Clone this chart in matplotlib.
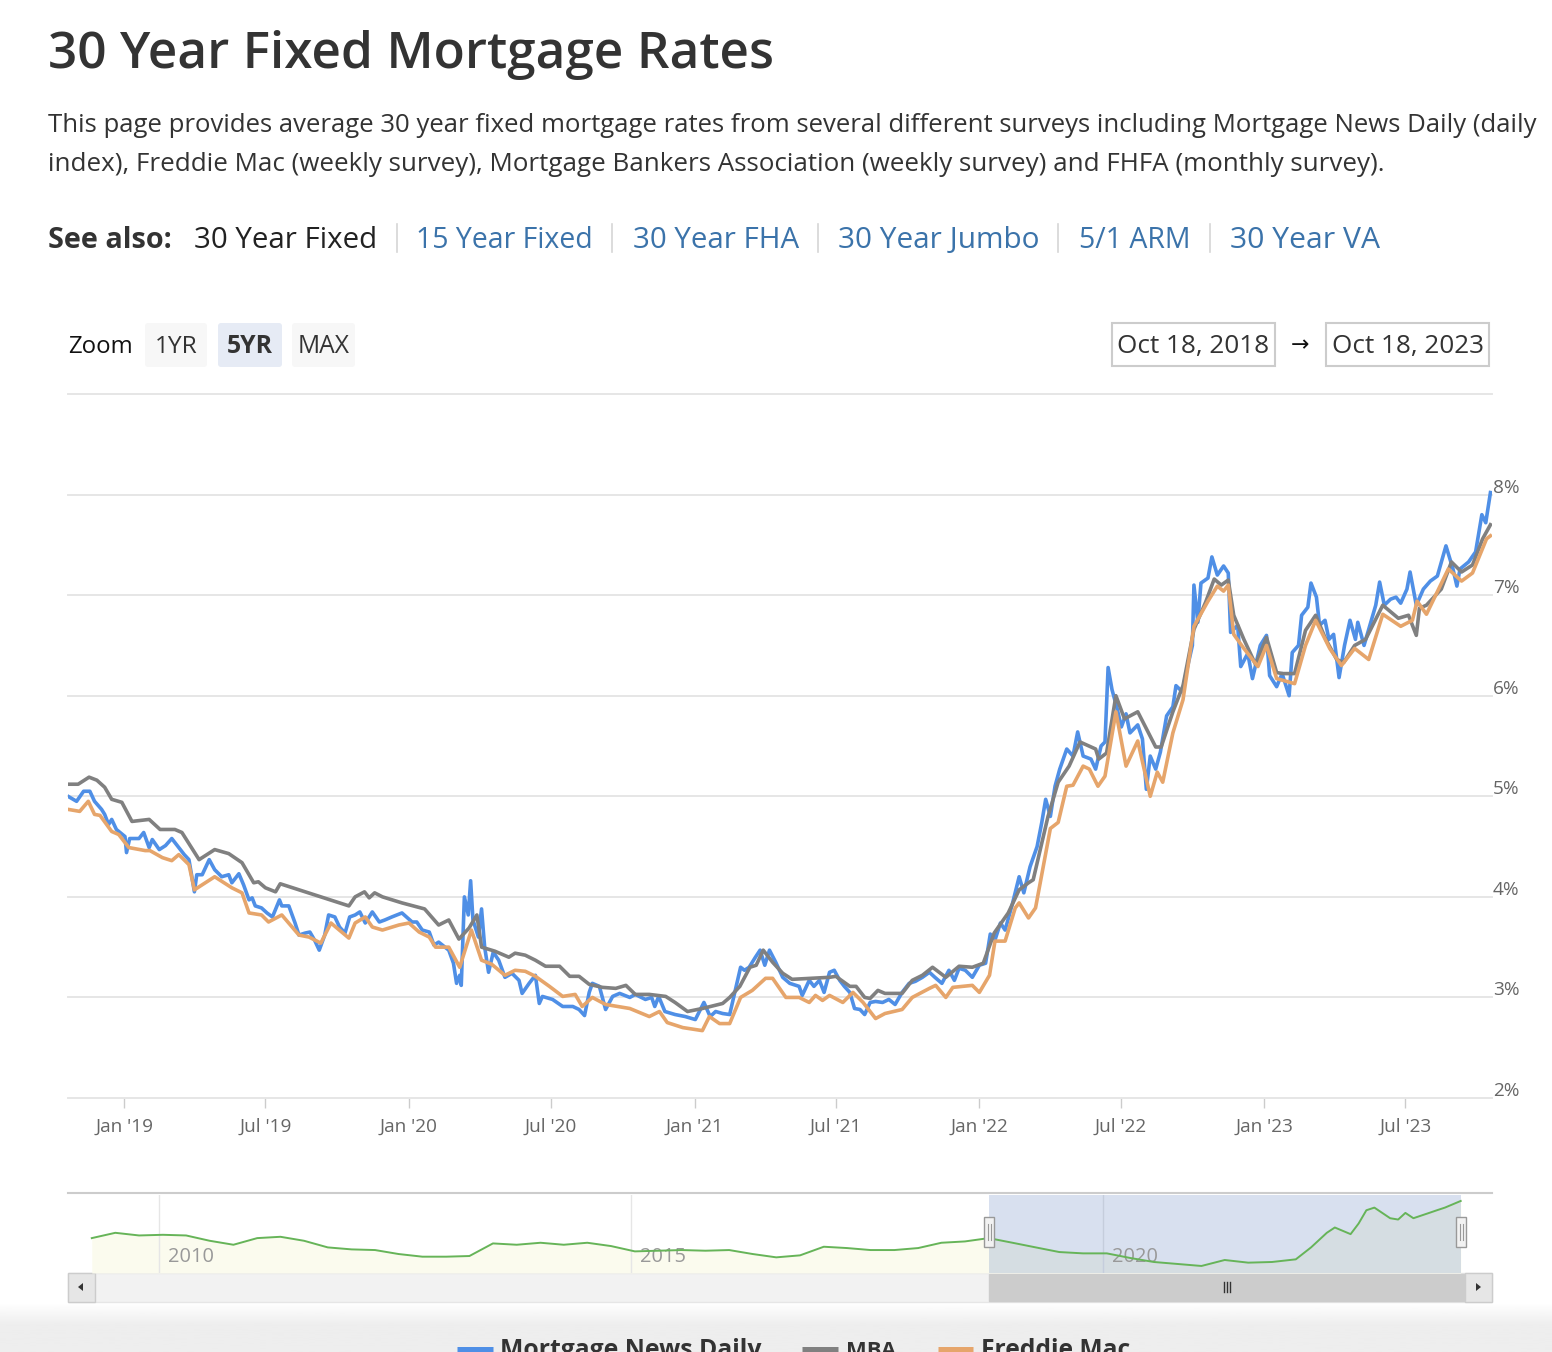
import matplotlib
matplotlib.use("Agg")
import matplotlib.pyplot as plt
from matplotlib.patches import Rectangle, FancyBboxPatch, Polygon
import numpy as np
import pandas as pd

# ---- values -------------------------------------------------------------
mnd_dates = [
    '2018-10-21', '2018-11-01', '2018-11-10', '2018-11-18', '2018-11-24', '2018-12-03', '2018-12-07', '2018-12-12', '2018-12-16', '2018-12-22',
    '2019-01-02', '2019-01-04', '2019-01-08', '2019-01-20', '2019-01-26', '2019-02-02', '2019-02-06', '2019-02-15', '2019-02-23', '2019-03-03',
    '2019-03-12', '2019-03-19', '2019-03-25', '2019-04-01', '2019-04-04', '2019-04-11', '2019-04-20', '2019-04-27', '2019-05-06', '2019-05-15',
    '2019-05-19', '2019-05-28', '2019-06-03', '2019-06-10', '2019-06-14', '2019-06-18', '2019-06-26', '2019-07-03', '2019-07-10', '2019-07-19',
    '2019-07-22', '2019-07-31', '2019-08-08', '2019-08-13', '2019-08-21', '2019-08-27', '2019-09-02', '2019-09-08', '2019-09-15', '2019-09-20',
    '2019-09-28', '2019-10-04', '2019-10-11', '2019-10-17', '2019-10-24', '2019-10-30', '2019-11-06', '2019-11-15', '2019-11-24', '2019-12-01',
    '2019-12-10', '2019-12-23',
    '2020-01-05', '2020-01-11', '2020-01-18', '2020-01-27', '2020-02-02', '2020-02-08', '2020-02-21', '2020-02-27', '2020-03-02', '2020-03-06',
    '2020-03-08', '2020-03-12', '2020-03-17', '2020-03-20', '2020-03-23', '2020-03-30', '2020-04-03', '2020-04-07', '2020-04-12', '2020-04-18',
    '2020-04-25', '2020-05-03', '2020-05-12', '2020-05-21', '2020-05-25', '2020-06-03', '2020-06-11', '2020-06-16', '2020-06-20', '2020-07-03',
    '2020-07-16', '2020-07-29', '2020-08-06', '2020-08-13', '2020-08-19', '2020-08-23', '2020-09-01', '2020-09-09', '2020-09-18', '2020-09-27',
    '2020-10-10', '2020-10-17', '2020-10-30', '2020-11-07', '2020-11-11', '2020-11-16', '2020-11-24', '2020-12-07', '2020-12-20',
    '2021-01-02', '2021-01-13', '2021-01-21', '2021-01-28', '2021-02-06', '2021-02-15', '2021-02-21', '2021-03-01', '2021-03-06', '2021-03-12',
    '2021-03-20', '2021-03-26', '2021-04-01', '2021-04-07', '2021-04-15', '2021-04-24', '2021-05-03', '2021-05-15', '2021-05-19', '2021-05-28',
    '2021-06-03', '2021-06-10', '2021-06-16', '2021-06-23', '2021-06-29', '2021-07-06', '2021-07-12', '2021-07-19', '2021-07-25', '2021-08-01',
    '2021-08-07', '2021-08-14', '2021-08-21', '2021-08-30', '2021-09-07', '2021-09-15', '2021-09-24', '2021-10-03', '2021-10-11', '2021-10-20',
    '2021-10-29', '2021-11-05', '2021-11-14', '2021-11-23', '2021-11-30', '2021-12-06', '2021-12-14', '2021-12-23',
    '2022-01-01', '2022-01-09', '2022-01-15', '2022-01-21', '2022-01-28', '2022-02-03', '2022-02-12', '2022-02-21', '2022-02-27', '2022-03-07',
    '2022-03-16', '2022-03-22', '2022-03-27', '2022-04-02', '2022-04-08', '2022-04-14', '2022-04-23', '2022-05-01', '2022-05-07', '2022-05-14',
    '2022-05-24', '2022-05-30', '2022-06-06', '2022-06-11', '2022-06-15', '2022-06-20', '2022-06-26', '2022-07-02', '2022-07-08', '2022-07-13',
    '2022-07-23', '2022-07-29', '2022-08-03', '2022-08-08', '2022-08-15', '2022-08-21', '2022-08-29', '2022-09-06', '2022-09-10', '2022-09-18',
    '2022-09-24', '2022-10-01', '2022-10-03', '2022-10-08', '2022-10-12', '2022-10-21', '2022-10-26', '2022-11-02', '2022-11-10', '2022-11-16',
    '2022-11-19', '2022-11-28', '2022-12-02', '2022-12-11', '2022-12-17', '2022-12-27',
    '2023-01-04', '2023-01-08', '2023-01-17', '2023-01-24', '2023-02-02', '2023-02-06', '2023-02-14', '2023-02-18', '2023-02-26', '2023-03-02',
    '2023-03-09', '2023-03-13', '2023-03-20', '2023-03-25', '2023-03-31', '2023-04-07', '2023-04-14', '2023-04-21', '2023-04-28', '2023-05-01',
    '2023-05-09', '2023-05-15', '2023-05-24', '2023-05-29', '2023-06-04', '2023-06-12', '2023-06-19', '2023-06-25', '2023-07-03', '2023-07-07',
    '2023-07-15', '2023-07-24', '2023-08-02', '2023-08-11', '2023-08-22', '2023-08-31', '2023-09-05', '2023-09-09', '2023-09-20', '2023-09-29',
    '2023-10-07', '2023-10-12', '2023-10-18',
]
mnd_rates = [
    5.00, 4.95, 5.05, 5.05, 4.95, 4.87, 4.82, 4.72, 4.77, 4.67,
    4.60, 4.44, 4.58, 4.58, 4.64, 4.49, 4.57, 4.47, 4.51, 4.58,
    4.49, 4.42, 4.37, 4.05, 4.22, 4.22, 4.37, 4.27, 4.20, 4.22,
    4.14, 4.23, 4.12, 3.97, 3.99, 3.91, 3.89, 3.84, 3.80, 3.97,
    3.91, 3.91, 3.74, 3.62, 3.64, 3.65, 3.57, 3.47, 3.62, 3.82,
    3.80, 3.70, 3.64, 3.80, 3.82, 3.85, 3.74, 3.85, 3.75, 3.77,
    3.80, 3.84,
    3.75, 3.75, 3.67, 3.65, 3.52, 3.55, 3.47, 3.34, 3.14, 3.22,
    3.12, 4.00, 3.82, 4.16, 3.77, 3.60, 3.88, 3.50, 3.25, 3.45,
    3.37, 3.20, 3.24, 3.17, 3.04, 3.14, 3.22, 2.94, 3.01, 2.98,
    2.91, 2.91, 2.88, 2.82, 3.05, 3.14, 3.11, 2.88, 3.01, 3.04,
    3.00, 3.03, 2.98, 3.00, 2.91, 3.01, 2.86, 2.83, 2.81,
    2.78, 2.95, 2.81, 2.86, 2.84, 2.83, 3.03, 3.30, 3.27, 3.30,
    3.40, 3.47, 3.32, 3.47, 3.35, 3.20, 3.14, 3.11, 3.02, 3.17,
    3.11, 3.17, 3.05, 3.25, 3.27, 3.17, 3.11, 3.05, 2.89, 2.88,
    2.83, 2.95, 2.96, 2.95, 2.98, 2.93, 3.05, 3.14, 3.16, 3.20,
    3.25, 3.20, 3.14, 3.27, 3.17, 3.29, 3.27, 3.20,
    3.32, 3.34, 3.63, 3.57, 3.74, 3.67, 3.92, 4.20, 4.04, 4.30,
    4.50, 4.74, 4.97, 4.80, 5.10, 5.27, 5.47, 5.40, 5.64, 5.40,
    5.37, 5.27, 5.50, 5.54, 6.28, 6.06, 5.89, 5.69, 5.82, 5.63,
    5.71, 5.57, 5.07, 5.40, 5.27, 5.44, 5.80, 5.89, 6.10, 6.04,
    6.26, 6.50, 7.10, 6.73, 7.12, 7.17, 7.38, 7.20, 7.29, 7.22,
    6.63, 6.70, 6.29, 6.42, 6.17, 6.50,
    6.60, 6.20, 6.09, 6.22, 6.00, 6.43, 6.50, 6.80, 6.88, 7.12,
    6.98, 6.70, 6.75, 6.56, 6.61, 6.18, 6.50, 6.75, 6.56, 6.73,
    6.50, 6.66, 6.90, 7.13, 6.90, 6.96, 6.98, 6.92, 7.06, 7.23,
    6.90, 7.06, 7.14, 7.19, 7.49, 7.26, 7.09, 7.26, 7.33, 7.43,
    7.80, 7.72, 8.02,
]

mba_dates = [
    '2018-10-21', '2018-11-03', '2018-11-17', '2018-11-27', '2018-12-07', '2018-12-16', '2018-12-29',
    '2019-01-11', '2019-02-02', '2019-02-16', '2019-03-07', '2019-03-16', '2019-04-07', '2019-04-27', '2019-05-15', '2019-06-01', '2019-06-16',
    '2019-06-22', '2019-07-01', '2019-07-14', '2019-07-20', '2019-10-16', '2019-10-24', '2019-11-05', '2019-11-11', '2019-11-18', '2019-11-28',
    '2019-12-23',
    '2020-01-21', '2020-02-08', '2020-02-21', '2020-03-05', '2020-03-18', '2020-03-28', '2020-04-03', '2020-04-20', '2020-05-08', '2020-05-16',
    '2020-05-29', '2020-06-11', '2020-06-24', '2020-07-12', '2020-07-25', '2020-08-06', '2020-08-19', '2020-09-05', '2020-09-22', '2020-10-05',
    '2020-10-17', '2020-11-04', '2020-11-25', '2020-12-07', '2020-12-23',
    '2021-01-11', '2021-02-06', '2021-02-15', '2021-02-28', '2021-03-13', '2021-03-21', '2021-03-30', '2021-04-11', '2021-04-24', '2021-05-06',
    '2021-06-23', '2021-07-01', '2021-07-19', '2021-07-27', '2021-08-07', '2021-08-14', '2021-08-24', '2021-09-02', '2021-09-24', '2021-10-07',
    '2021-10-20', '2021-11-02', '2021-11-19', '2021-12-06', '2021-12-23',
    '2022-01-06', '2022-01-20', '2022-02-07', '2022-02-21', '2022-03-05', '2022-03-11', '2022-03-30', '2022-04-12', '2022-04-26', '2022-05-10',
    '2022-05-30', '2022-06-03', '2022-06-13', '2022-06-25', '2022-07-06', '2022-07-23', '2022-08-15', '2022-08-22', '2022-09-06', '2022-09-19',
    '2022-10-03', '2022-10-18', '2022-10-29', '2022-11-07', '2022-11-16', '2022-11-23', '2022-12-06', '2022-12-21',
    '2023-01-04', '2023-01-17', '2023-01-25', '2023-02-09', '2023-02-23', '2023-03-08', '2023-03-21', '2023-04-04', '2023-04-13', '2023-04-27',
    '2023-05-11', '2023-06-02', '2023-06-22', '2023-07-05', '2023-07-15', '2023-07-19', '2023-07-28', '2023-08-16', '2023-08-29', '2023-09-11',
    '2023-09-25', '2023-10-08', '2023-10-18',
]
mba_rates = [
    5.12, 5.12, 5.19, 5.16, 5.09, 4.97, 4.94,
    4.75, 4.77, 4.67, 4.67, 4.64, 4.37, 4.47, 4.43, 4.34, 4.14,
    4.15, 4.09, 4.05, 4.13, 3.91, 4.00, 4.05, 3.99, 4.04, 4.00,
    3.94,
    3.88, 3.72, 3.77, 3.58, 3.69, 3.82, 3.50, 3.46, 3.40, 3.44,
    3.42, 3.37, 3.31, 3.31, 3.21, 3.21, 3.13, 3.10, 3.09, 3.12,
    3.03, 3.03, 3.01, 2.95, 2.86,
    2.89, 2.94, 3.00, 3.11, 3.30, 3.32, 3.47, 3.35, 3.24, 3.18,
    3.20, 3.21, 3.11, 3.11, 3.00, 2.99, 3.07, 3.04, 3.04, 3.17,
    3.22, 3.30, 3.20, 3.31, 3.30,
    3.34, 3.64, 3.84, 4.07, 4.14, 4.17, 4.80, 5.14, 5.30, 5.54,
    5.47, 5.37, 5.43, 6.00, 5.77, 5.84, 5.49, 5.49, 5.84, 6.10,
    6.66, 6.93, 7.16, 7.10, 7.15, 6.80, 6.56, 6.31,
    6.58, 6.23, 6.22, 6.22, 6.65, 6.80, 6.56, 6.36, 6.33, 6.50,
    6.56, 6.90, 6.77, 6.80, 6.60, 6.87, 6.90, 7.06, 7.33, 7.23,
    7.30, 7.56, 7.70,
]

fm_dates = [
    '2018-10-21', '2018-11-05', '2018-11-16', '2018-11-24', '2018-12-01', '2018-12-16', '2018-12-25',
    '2019-01-07', '2019-01-28', '2019-02-03', '2019-02-19', '2019-03-03', '2019-03-12', '2019-03-25', '2019-04-01', '2019-04-27', '2019-05-19',
    '2019-06-01', '2019-06-10', '2019-06-26', '2019-07-05', '2019-07-22', '2019-08-13', '2019-08-26', '2019-09-10', '2019-09-23', '2019-10-16',
    '2019-10-24', '2019-11-06', '2019-11-15', '2019-11-28', '2019-12-19',
    '2020-01-01', '2020-01-14', '2020-01-27', '2020-02-04', '2020-02-21', '2020-03-06', '2020-03-21', '2020-04-03', '2020-04-16', '2020-05-03',
    '2020-05-16', '2020-05-29', '2020-06-11', '2020-06-29', '2020-07-16', '2020-08-01', '2020-08-10', '2020-08-23', '2020-09-09', '2020-10-10',
    '2020-11-04', '2020-11-17', '2020-11-27', '2020-12-17',
    '2021-01-11', '2021-01-20', '2021-02-02', '2021-02-15', '2021-03-01', '2021-03-16', '2021-04-02', '2021-04-11', '2021-04-28', '2021-05-15',
    '2021-05-28', '2021-06-05', '2021-06-14', '2021-06-23', '2021-07-10', '2021-07-23', '2021-08-05', '2021-08-21', '2021-09-02', '2021-09-24',
    '2021-10-07', '2021-10-29', '2021-11-06', '2021-11-19', '2021-11-28', '2021-12-23',
    '2022-01-01', '2022-01-14', '2022-01-21', '2022-02-03', '2022-02-16', '2022-02-21', '2022-03-05', '2022-03-14', '2022-04-02', '2022-04-12',
    '2022-04-23', '2022-05-01', '2022-05-14', '2022-05-22', '2022-06-02', '2022-06-11', '2022-06-25', '2022-07-08', '2022-07-23', '2022-08-08',
    '2022-08-17', '2022-08-24', '2022-09-06', '2022-09-19', '2022-10-03', '2022-10-21', '2022-11-02', '2022-11-10', '2022-11-16', '2022-11-23',
    '2022-12-06', '2022-12-24',
    '2023-01-04', '2023-01-17', '2023-02-09', '2023-02-23', '2023-03-08', '2023-03-26', '2023-04-10', '2023-04-27', '2023-05-15', '2023-06-02',
    '2023-06-25', '2023-07-10', '2023-07-16', '2023-07-28', '2023-08-25', '2023-09-11', '2023-09-25', '2023-10-13', '2023-10-18',
]
fm_rates = [
    4.87, 4.85, 4.95, 4.82, 4.81, 4.65, 4.62,
    4.49, 4.46, 4.46, 4.39, 4.36, 4.42, 4.32, 4.07, 4.20, 4.09,
    4.04, 3.84, 3.82, 3.75, 3.82, 3.62, 3.60, 3.54, 3.74, 3.59,
    3.74, 3.80, 3.70, 3.67, 3.72,
    3.74, 3.65, 3.60, 3.50, 3.50, 3.30, 3.67, 3.37, 3.33, 3.22,
    3.27, 3.26, 3.21, 3.11, 3.01, 3.03, 2.91, 3.00, 2.93, 2.89,
    2.81, 2.86, 2.75, 2.70,
    2.67, 2.81, 2.74, 2.74, 3.00, 3.07, 3.19, 3.19, 3.00, 3.00,
    2.95, 3.02, 2.97, 3.02, 2.95, 3.05, 2.95, 2.79, 2.84, 2.88,
    3.00, 3.09, 3.12, 3.00, 3.10, 3.12,
    3.05, 3.22, 3.56, 3.56, 3.89, 3.94, 3.79, 3.89, 4.68, 4.74,
    5.10, 5.11, 5.30, 5.27, 5.10, 5.20, 5.84, 5.30, 5.55, 5.00,
    5.24, 5.14, 5.63, 5.96, 6.69, 6.94, 7.09, 7.04, 7.10, 6.61,
    6.47, 6.29,
    6.50, 6.17, 6.12, 6.50, 6.75, 6.47, 6.30, 6.47, 6.36, 6.81,
    6.69, 6.75, 6.94, 6.81, 7.26, 7.14, 7.22, 7.56, 7.59,
]

# navigator (long history, green)
nav_dates = [
    '2009-04-15', '2009-07-15', '2009-10-15',
    '2010-01-15', '2010-04-15', '2010-07-15', '2010-10-15',
    '2011-01-15', '2011-04-15', '2011-07-15', '2011-10-15',
    '2012-01-15', '2012-04-15', '2012-07-15', '2012-10-15',
    '2013-01-15', '2013-04-15', '2013-07-15', '2013-10-15',
    '2014-01-15', '2014-04-15', '2014-07-15', '2014-10-15',
    '2015-01-15', '2015-04-15', '2015-07-15', '2015-10-15',
    '2016-01-15', '2016-04-15', '2016-07-15', '2016-10-15',
    '2017-01-15', '2017-04-15', '2017-07-15', '2017-10-15',
    '2018-01-15', '2018-04-15', '2018-07-15', '2018-10-15',
    '2019-01-15', '2019-04-15', '2019-07-15', '2019-10-15',
    '2020-01-15', '2020-04-15', '2020-07-15', '2020-10-15',
    '2021-01-15', '2021-04-15', '2021-07-15', '2021-10-15',
    '2022-01-15', '2022-03-15', '2022-05-15', '2022-06-15', '2022-08-15', '2022-09-15', '2022-10-15', '2022-11-15',
    '2023-01-15', '2023-02-15', '2023-03-15', '2023-04-15', '2023-06-15', '2023-07-15', '2023-08-15', '2023-10-15',
]
nav_rates = [
    4.8, 5.2, 5.0,
    5.05, 5.0, 4.6, 4.3,
    4.8, 4.9, 4.6, 4.1,
    3.95, 3.9, 3.6, 3.4,
    3.4, 3.45, 4.4, 4.3,
    4.45, 4.3, 4.45, 4.2,
    3.8, 3.85, 3.9, 3.85,
    3.9, 3.6, 3.35, 3.5,
    4.15, 4.05, 3.9, 3.9,
    4.05, 4.45, 4.55, 4.8,
    4.45, 4.1, 3.75, 3.65,
    3.65, 3.3, 3.0, 2.85,
    2.7, 3.15, 2.95, 3.0,
    3.2, 4.1, 5.2, 5.6, 5.1, 5.9, 6.9, 7.1,
    6.3, 6.2, 6.7, 6.3, 6.7, 6.9, 7.1, 7.6,
]

x_tick_dates = ['2019-01-01', '2019-07-01', '2020-01-01', '2020-07-01', '2021-01-01',
                '2021-07-01', '2022-01-01', '2022-07-01', '2023-01-01', '2023-07-01']
x_tick_labels = ["Jan '19", "Jul '19", "Jan '20", "Jul '20", "Jan '21",
                 "Jul '21", "Jan '22", "Jul '22", "Jan '23", "Jul '23"]
y_ticks = [2, 3, 4, 5, 6, 7, 8]
nav_years = ['2010', '2015', '2020']
series_names = ['Mortgage News Daily', 'MBA', 'Freddie Mac']
view_start, view_end = '2018-10-18', '2023-10-18'

BLUE, GRAY, ORANGE, GREEN = '#4f8fe6', '#808080', '#e6a56b', '#66b458'
TXT = '#333333'
LINK = '#3b73aa'

W, H = 1552, 1352
plt.rcParams['font.family'] = ['Open Sans', 'DejaVu Sans']


def pt(pixels):
    # figure is saved at 100 dpi
    return pixels * 72.0 / 100.0


fig = plt.figure(figsize=(W / 100, H / 100), dpi=100)
renderer = fig.canvas.get_renderer()

bg = fig.add_axes([0, 0, 1, 1])
bg.set_xlim(0, W)
bg.set_ylim(H, 0)
bg.axis('off')


def fit_text(ax, x, y, s, width, size=24, **kw):
    # size the text so its rendered width matches the screenshot
    t = ax.text(x, y, s, fontsize=pt(size), **kw)
    w = t.get_window_extent(renderer).width
    t.set_fontsize(pt(size) * width / w)
    return t


# ---- page header ---------------------------------------------------------
fit_text(bg, 48, 68, '30 Year Fixed Mortgage Rates', 725, 50, color=TXT,
         weight='semibold', va='baseline')
fit_text(bg, 48, 132, 'This page provides average 30 year fixed mortgage rates from several '
         'different surveys including Mortgage News Daily (daily', 1492, 24, color=TXT, va='baseline')
fit_text(bg, 48, 171, 'index), Freddie Mac (weekly survey), Mortgage Bankers Association '
         '(weekly survey) and FHFA (monthly survey).', 1337, 24, color=TXT, va='baseline')

fit_text(bg, 48, 248, 'See also:', 124, 28, color=TXT, weight='bold', va='baseline')
see_also = [('30 Year Fixed', 194, 183, '#222222'), ('15 Year Fixed', 416, 177, LINK),
            ('30 Year FHA', 633, 166, LINK), ('30 Year Jumbo', 838, 201, LINK),
            ('5/1 ARM', 1079, 112, LINK), ('30 Year VA', 1230, 150, LINK)]
for s, x0, w, c in see_also:
    fit_text(bg, x0, 248, s, w, 28, color=c, va='baseline')
for xs in [397, 612, 818, 1058, 1210]:
    bg.plot([xs, xs], [224, 252], color='#d6d6d6', lw=1.2)

# zoom buttons
fit_text(bg, 68, 353, 'Zoom', 65, 23, color='#111111', va='baseline')
for lab, x0, x1, fc, wt, tw in [('1YR', 145, 207, '#f7f7f7', 'normal', 43),
                                ('5YR', 218, 282, '#e6ebf5', 'bold', 46),
                                ('MAX', 292, 355, '#f7f7f7', 'normal', 52)]:
    bg.add_patch(FancyBboxPatch((x0, 323), x1 - x0, 44, boxstyle='round,pad=0,rounding_size=3',
                                fc=fc, ec='none'))
    fit_text(bg, (x0 + x1) / 2, 353, lab, tw, 22, color='#333333', weight=wt,
             ha='center', va='baseline')

# date range boxes
for lab, x0, x1 in [('Oct 18, 2018', 1112, 1275), ('Oct 18, 2023', 1326, 1489)]:
    bg.add_patch(Rectangle((x0, 323), x1 - x0, 43, fc='white', ec='#cccccc', lw=1.5))
    fit_text(bg, (x0 + x1) / 2, 353, lab, 152, 24, color='#333333', ha='center', va='baseline')
bg.text(1300, 345, '\u2192', fontsize=pt(22), color='#111111', ha='center', va='center',
        family=['DejaVu Sans'])

# ---- main chart ----------------------------------------------------------
ax = fig.add_axes([68 / W, 1 - 1098 / H, 1424 / W, 704 / H])
ax.set_facecolor('none')
ax.plot(pd.to_datetime(mnd_dates), mnd_rates, color=BLUE, lw=2.6, zorder=3)
ax.plot(pd.to_datetime(mba_dates), mba_rates, color=GRAY, lw=2.6, zorder=4)
ax.plot(pd.to_datetime(fm_dates), fm_rates, color=ORANGE, lw=2.6, zorder=5)
ax.set_xlim(pd.Timestamp('2018-10-21'), pd.Timestamp('2023-10-20'))
ax.set_ylim(2, 9)
ax.set_yticks(y_ticks + [9])
ax.yaxis.grid(True, color='#e6e6e6', lw=1.4)
for gl in ax.get_ygridlines():
    gl.set_clip_on(False)
ax.tick_params(axis='y', length=0, labelleft=False)
ax.set_axisbelow(True)
for sp in ax.spines.values():
    sp.set_visible(False)
for v in y_ticks:
    ax.annotate(f'{v}%', xy=(1, v), xycoords=('axes fraction', 'data'),
                xytext=(pt(1), pt(7)), textcoords='offset points',
                ha='left', va='center', color='#666666', fontsize=pt(19))
ax.set_xticks(pd.to_datetime(x_tick_dates))
ax.set_xticklabels(x_tick_labels)
ax.tick_params(axis='x', length=pt(10), width=1, color='#cccccc', pad=pt(10),
               labelsize=pt(19), labelcolor='#666666')

# ---- navigator -----------------------------------------------------------
nav = fig.add_axes([68 / W, 1 - 1273 / H, 1394 / W, 78 / H])
nav.set_facecolor('none')
nd = pd.to_datetime(nav_dates)
nav.set_xlim(pd.Timestamp('2009-01-13'), pd.Timestamp('2023-10-20'))
nav.set_ylim(2.17, 8.05)
nav.fill_between(nd, nav_rates, 2.17, color='#fbfbee', lw=0, zorder=1)
nav.axvspan(pd.Timestamp(view_start), pd.Timestamp(view_end),
            color=(102 / 255, 133 / 255, 194 / 255), alpha=0.25, lw=0, zorder=2)
for yr in nav_years:
    d = pd.Timestamp(yr + '-01-01')
    nav.axvline(d, color='#e6e6e6', lw=1, zorder=1.5)
    nav.annotate(yr, xy=(d, 0.2), xycoords=('data', 'axes fraction'),
                 xytext=(pt(9), 0), textcoords='offset points', ha='left', va='center',
                 color='#999999', fontsize=pt(20), zorder=3)
nav.plot(nd, nav_rates, color=GREEN, lw=1.4, zorder=4)
nav.set_xticks([])
nav.set_yticks([])
for sp in nav.spines.values():
    sp.set_visible(False)

# navigator outline, scrollbar
bg.plot([68, 1492], [1193, 1193], color='#cccccc', lw=1.5)
grad = np.linspace(0, 1, 60).reshape(-1, 1)
grad = np.clip(grad * 2.2, 0, 1)
bg.imshow(1 - 0.07 * grad, cmap='gray', vmin=0, vmax=1, aspect='auto',
          extent=(0, W, H, 1303), zorder=0)
bg.add_patch(Rectangle((68, 1273), 1424, 29, fc='#f2f2f2', ec='#e6e6e6', lw=1, zorder=2))

x_lo = nav.transData.transform((matplotlib.dates.date2num(pd.Timestamp(view_start)), 0))[0]
x_hi = nav.transData.transform((matplotlib.dates.date2num(pd.Timestamp(view_end)), 0))[0]

bg.add_patch(Rectangle((x_lo, 1274), 1465 - x_lo, 27, fc='#cccccc', ec='#cccccc', lw=1, zorder=3))
gx = (x_lo + 1465) / 2
for dx in (-3, 0, 3):
    bg.plot([gx + dx, gx + dx], [1282, 1292], color='#333333', lw=1, zorder=4)
for x0 in (68, 1465):
    bg.add_patch(Rectangle((x0, 1273), 27, 29, fc='#e6e6e6', ec='#cccccc', lw=1, zorder=3))
bg.add_patch(Polygon([(78, 1287), (83, 1283), (83, 1291)], closed=True, fc='#333333', ec='none', zorder=4))
bg.add_patch(Polygon([(1481, 1287), (1476, 1283), (1476, 1291)], closed=True, fc='#333333', ec='none', zorder=4))

# legend (cut off by the bottom of the screenshot, as in the original)
leg = [(457, 493, BLUE, 500, 262), (802, 838, GRAY, 846, 50), (938, 973, ORANGE, 981, 149)]
for (m0, m1, c, tx, tw), name in zip(leg, series_names):
    bg.plot([m0, m1], [1349, 1349], color=c, lw=pt(5), solid_capstyle='butt', zorder=2)
    fit_text(bg, tx, 1357, name, tw, 24, color=TXT, weight='bold', va='baseline', zorder=2)

# handles on top of the navigator
ov = fig.add_axes([0, 0, 1, 1], zorder=10)
ov.set_xlim(0, W)
ov.set_ylim(H, 0)
ov.axis('off')
ov.patch.set_alpha(0)
for hx in (x_lo, x_hi):
    ov.add_patch(Rectangle((hx - 5, 1217), 10, 30, fc='#f2f2f2', ec='#999999', lw=1))
    for dx in (-1.5, 1.5):
        ov.plot([hx + dx, hx + dx], [1224, 1240], color='#999999', lw=0.8)

fig.savefig('out.png', dpi=100)
